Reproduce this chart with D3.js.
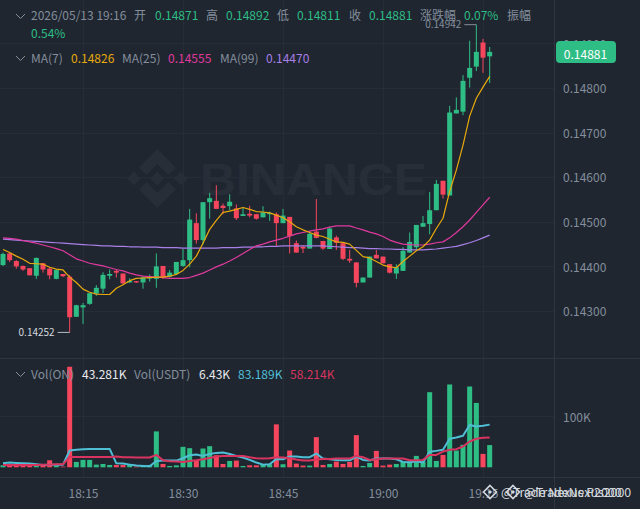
<!DOCTYPE html>
<html>
<head>
<meta charset="utf-8">
<script src="https://cdnjs.cloudflare.com/ajax/libs/d3/7.8.5/d3.min.js"></script>
<style>
  html, body { margin: 0; padding: 0; background: #1f2630; }
  svg { display: block; }
  text { font-family: "Noto Sans CJK SC", "Noto Sans", sans-serif; }
</style>
</head>
<body>
<div id="chart"></div>
<script>
// one candle per minute, first one is 18:03, last one 19:16
const startTime = new Date(2026, 4, 13, 18, 3);
const opens = [
  0.14403,0.14429,0.14412,0.14401,0.14396,0.14379,0.14407,0.14395,0.14372,0.14383,
  0.14377,0.14287,0.14308,0.14316,0.14339,0.14350,0.14379,0.14390,0.14384,0.14364,
  0.14367,0.14364,0.14373,0.14372,0.14401,0.14377,0.14383,0.14401,0.14414,0.14497,
  0.14459,0.14544,0.14547,0.14536,0.14535,0.14530,0.14513,0.14518,0.14517,0.14510,
  0.14517,0.14517,0.14497,0.14511,0.14452,0.14444,0.14440,0.14478,0.14457,0.14439,
  0.14465,0.14452,0.14417,0.14409,0.14364,0.14375,0.14426,0.14422,0.14405,0.14384,
  0.14390,0.14431,0.14443,0.14489,0.14495,0.14526,0.14592,0.14559,0.14743,0.14747,
  0.14823,0.14848,0.14902,0.14871];
const closes = [
  0.14428,0.14414,0.14400,0.14393,0.14380,0.14419,0.14393,0.14380,0.14392,0.14378,
  0.14286,0.14313,0.14313,0.14340,0.14352,0.14381,0.14383,0.14386,0.14362,0.14367,
  0.14364,0.14375,0.14376,0.14400,0.14375,0.14386,0.14410,0.14414,0.14505,0.14459,
  0.14544,0.14553,0.14529,0.14531,0.14545,0.14508,0.14517,0.14514,0.14507,0.14521,
  0.14520,0.14497,0.14514,0.14468,0.14431,0.14440,0.14473,0.14464,0.14440,0.14485,
  0.14453,0.14417,0.14413,0.14363,0.14375,0.14422,0.14418,0.14407,0.14386,0.14398,
  0.14435,0.14455,0.14493,0.14497,0.14526,0.14585,0.14561,0.14745,0.14751,0.14816,
  0.14845,0.14881,0.14868,0.14881];
const highs = [
  0.14431,0.14432,0.14414,0.14402,0.14396,0.14420,0.14407,0.14398,0.14393,0.14383,
  0.14381,0.14314,0.14318,0.14340,0.14358,0.14387,0.14393,0.14393,0.14384,0.14373,
  0.14367,0.14378,0.14382,0.14429,0.14401,0.14392,0.14410,0.14439,0.14529,0.14519,
  0.14544,0.14565,0.14582,0.14541,0.14562,0.14539,0.14532,0.14536,0.14517,0.14535,
  0.14523,0.14521,0.14529,0.14511,0.14458,0.14446,0.14478,0.14551,0.14457,0.14489,
  0.14469,0.14453,0.14437,0.14409,0.14375,0.14422,0.14437,0.14422,0.14405,0.14405,
  0.14443,0.14476,0.14493,0.14513,0.14567,0.14594,0.14592,0.14760,0.14779,0.14829,
  0.14906,0.14942,0.14910,0.14892];
const lows = [
  0.14401,0.14410,0.14395,0.14390,0.14380,0.14372,0.14386,0.14371,0.14371,0.14376,
  0.14252,0.14287,0.14271,0.14314,0.14334,0.14340,0.14371,0.14375,0.14360,0.14363,
  0.14363,0.14350,0.14366,0.14352,0.14372,0.14375,0.14381,0.14399,0.14398,0.14451,
  0.14449,0.14507,0.14529,0.14517,0.14526,0.14504,0.14513,0.14510,0.14505,0.14510,
  0.14502,0.14446,0.14497,0.14429,0.14431,0.14430,0.14440,0.14463,0.14437,0.14439,
  0.14437,0.14414,0.14408,0.14353,0.14364,0.14375,0.14418,0.14407,0.14384,0.14372,
  0.14390,0.14431,0.14438,0.14489,0.14472,0.14526,0.14552,0.14559,0.14743,0.14739,
  0.14801,0.14838,0.14834,0.14811];

const ma7 = [
  0.14438,0.14431,0.14423,0.14416,0.14407,0.14406,0.14405,0.14398,0.14394,0.14392,
  0.14376,0.14364,0.14349,0.14342,0.14338,0.14337,0.14337,0.14351,0.14359,0.14368,
  0.14373,0.14374,0.14375,0.14376,0.14376,0.14378,0.14382,0.14391,0.14405,0.14423,
  0.14452,0.14483,0.14503,0.14521,0.14524,0.14528,0.14532,0.14528,0.14523,0.14522,
  0.14520,0.14515,0.14509,0.14500,0.14489,0.14482,0.14476,0.14470,0.14467,0.14461,
  0.14455,0.14454,0.14450,0.14436,0.14422,0.14419,0.14411,0.14403,0.14399,0.14397,
  0.14411,0.14423,0.14435,0.14444,0.14459,0.14485,0.14508,0.14568,0.14616,0.14672,
  0.14737,0.14777,0.14802,0.14826];
const ma25 = [
  0.14464,0.14463,0.14461,0.14458,0.14455,0.14452,0.14448,0.14444,0.14440,0.14435,
  0.14426,0.14417,0.14412,0.14407,0.14404,0.14401,0.14397,0.14393,0.14390,0.14385,
  0.14381,0.14378,0.14377,0.14376,0.14375,0.14373,0.14373,0.14373,0.14375,0.14380,
  0.14385,0.14392,0.14399,0.14405,0.14412,0.14420,0.14429,0.14438,0.14446,0.14450,
  0.14455,0.14459,0.14463,0.14468,0.14473,0.14476,0.14479,0.14482,0.14484,0.14488,
  0.14491,0.14491,0.14491,0.14486,0.14482,0.14477,0.14473,0.14467,0.14459,0.14454,
  0.14450,0.14449,0.14448,0.14448,0.14450,0.14453,0.14455,0.14464,0.14476,0.14489,
  0.14504,0.14521,0.14538,0.14555];
const ma99 = [
  0.14461,0.14460,0.14459,0.14458,0.14457,0.14456,0.14455,0.14454,0.14453,0.14452,
  0.14451,0.14450,0.14449,0.14448,0.14447,0.14446,0.14446,0.14445,0.14445,0.14444,
  0.14444,0.14443,0.14443,0.14443,0.14442,0.14442,0.14442,0.14441,0.14441,0.14441,
  0.14441,0.14441,0.14441,0.14442,0.14442,0.14442,0.14443,0.14443,0.14444,0.14444,
  0.14445,0.14445,0.14446,0.14446,0.14446,0.14446,0.14446,0.14446,0.14446,0.14445,
  0.14444,0.14443,0.14442,0.14442,0.14441,0.14440,0.14440,0.14439,0.14439,0.14438,
  0.14438,0.14437,0.14437,0.14437,0.14438,0.14439,0.14441,0.14443,0.14445,0.14449,
  0.14453,0.14458,0.14464,0.14470];

// volume in thousands
const volumes = [
  3.9,4.6,4.6,3.9,4.6,3.9,4.6,13.7,3.9,1.3,
  196,10.5,14.4,14.4,5.2,6.5,4.6,4.6,4.6,4.6,
  1.3,4.6,4.6,70,6.5,2.6,3.9,39.9,37.3,14.4,
  36.6,41.2,23.5,6.5,12.4,13.1,2.6,3.9,3.9,4.6,
  5.9,83.7,5.9,32.7,7.2,3.3,3.3,58.8,4.6,6.5,
  11.1,6.5,10.5,62.7,2.6,8.5,32,3.3,5.2,6.5,
  11.1,11.1,22.2,11.1,146.4,12.4,24.2,161.4,32.7,43.8,
  157.5,125.5,26.1,43.3];
const volMaFast = [
  7.8,9.2,8.5,7.8,7.2,5.9,4.6,5.2,5.2,5.2,
  32.7,34,35.3,35.9,35.9,35.9,35.9,7.8,7.2,5.2,
  3.3,2.6,2,12.4,13.1,13.1,13.1,17.6,23.5,24.8,
  22.2,26.1,28.1,28.8,26.1,22.2,19,14.4,9.2,5.2,
  5.9,16.3,15.7,20.9,20.9,19.6,19.6,26.8,17,15.7,
  14.4,13.7,13.7,20.9,14.4,13.1,17,17,17,15.7,
  10.5,9.8,11.8,9.2,30.1,32,34,55.6,58.2,61.4,
  82.4,79.7,81,83.19];
const volMaSlow = [
  4.6,4.6,4.6,4.6,4.6,4.6,5.2,5.2,5.9,5.9,
  20.3,20.3,20.3,20.3,20.3,20.3,20.3,20.9,19.6,19.6,
  19,19,19,24.2,13.7,11.8,11.1,10.5,12.4,13.7,
  15.7,18.3,20.9,22.2,22.2,22.2,22.2,19.6,17.6,17,
  17.6,19.6,19,17.6,15,13.1,13.1,15,16.3,16.3,
  17,17,17,22.2,19.6,14.4,15.7,17,17,17,
  17,13.7,13.7,14.4,24.2,24.2,30.7,34,35.3,40.5,
  50.3,55.6,57.5,58.214];

const priceTicks = [0.143, 0.144, 0.145, 0.146, 0.147, 0.148, 0.149];
const volumeTicks = [100];
const timeTicks = [[18, 15], [18, 30], [18, 45], [19, 0], [19, 15]];
const lastPrice = 0.14881;
const lowPrice = 0.14252;
const highPrice = 0.14942;

const headerRow1 = [
  ["2026/05/13 19:16", 31, "gray"], ["开", 134, "gray"], ["0.14871", 155, "up"],
  ["高", 206, "gray"], ["0.14892", 226, "up"], ["低", 277, "gray"], ["0.14811", 297, "up"],
  ["收", 349, "gray"], ["0.14881", 369, "up"], ["涨跌幅", 420, "gray"], ["0.07%", 464, "up"],
  ["振幅", 507, "gray"]];
const headerRow2 = [["0.54%", 31, "up"]];
const maLegend = [
  ["MA(7)", 31, "gray"], ["0.14826", 71, "ma7"], ["MA(25)", 122, "gray"], ["0.14555", 168, "ma25"],
  ["MA(99)", 220, "gray"], ["0.14470", 266, "ma99"]];
const volLegend = [
  ["Vol(ON)", 31, "gray"], ["43.281K", 82, "white"], ["Vol(USDT)", 134, "gray"], ["6.43K", 199, "white"],
  ["83.189K", 238, "volFast"], ["58.214K", 290, "volSlow"]];

const colors = {
  bg: "#1f2630", grid: "#262d38", sep: "#2e3540", gray: "#848e9c", up: "#2ebd85", down: "#f6465d",
  white: "#eaecef", ma7: "#e8a90c", ma25: "#e0399e", ma99: "#a97fe8", volFast: "#4fbfd6", volSlow: "#d9345f",
  mark: "#272e38"
};

const width = 640, height = 509, plotRight = 555;
const svg = d3.select("#chart").append("svg").attr("width", width).attr("height", height)
  .style("background", colors.bg);

const timeOf = i => d3.timeMinute.offset(startTime, i);
const x = d3.scaleTime().domain([timeOf(0), timeOf(73)]).range([3, 489.67]);
const y = d3.scaleLinear().domain([0.143, 0.148]).range([311, 88]);
const yVol = d3.scaleLinear().domain([0, 100]).range([467.3, 416]);
const index = d3.range(opens.length);
const isUp = i => closes[i] >= opens[i];
const bodyWidth = 5;

// watermark
const wm = svg.append("g").attr("fill", colors.mark);
const logo = wm.append("g").attr("transform", "translate(157.3,178.5)");
logo.append("path").attr("d", "M0,-29.5 L18.5,-11 L11,-3.5 L0,-14.5 L-11,-3.5 L-18.5,-11 Z");
logo.append("path").attr("d", "M0,29.5 L18.5,11 L11,3.5 L0,14.5 L-11,3.5 L-18.5,11 Z");
logo.append("path").attr("d", "M0,-7 L7,0 L0,7 L-7,0 Z");
logo.append("path").attr("d", "M-23.5,-7 L-16.5,0 L-23.5,7 L-30.5,0 Z");
logo.append("path").attr("d", "M23.5,-7 L30.5,0 L23.5,7 L16.5,0 Z");
wm.append("text").attr("x", 200).attr("y", 195)
  .attr("textLength", 227).attr("lengthAdjust", "spacingAndGlyphs")
  .style("font-family", "'Liberation Sans'").style("font-weight", 700).style("font-size", "45px")
  .text("BINANCE");

// grid
const grid = svg.append("g").attr("stroke", colors.grid).attr("stroke-width", 1);
const tickDates = timeTicks.map(t => new Date(2026, 4, 13, t[0], t[1]));
grid.selectAll(".vg").data(tickDates).enter().append("line")
  .attr("x1", d => Math.round(x(d)) + 0.5).attr("x2", d => Math.round(x(d)) + 0.5)
  .attr("y1", 0).attr("y2", 477);
grid.selectAll(".hg").data(priceTicks).enter().append("line")
  .attr("x1", 0).attr("x2", plotRight)
  .attr("y1", d => Math.round(y(d)) + 0.5).attr("y2", d => Math.round(y(d)) + 0.5);
grid.selectAll(".hv").data(volumeTicks).enter().append("line")
  .attr("x1", 0).attr("x2", plotRight)
  .attr("y1", d => Math.round(yVol(d)) + 0.5).attr("y2", d => Math.round(yVol(d)) + 0.5);

// pane separators
const seps = svg.append("g").attr("stroke", colors.sep);
seps.append("line").attr("x1", 0).attr("x2", width).attr("y1", 358.5).attr("y2", 358.5);
seps.append("line").attr("x1", 0).attr("x2", width).attr("y1", 477.5).attr("y2", 477.5);
seps.append("line").attr("x1", plotRight - 0.5).attr("x2", plotRight - 0.5).attr("y1", 0).attr("y2", height);

// volume bars
svg.append("g").selectAll("rect").data(index).enter().append("rect")
  .attr("x", i => x(timeOf(i)) - bodyWidth / 2)
  .attr("width", bodyWidth)
  .attr("y", i => yVol(volumes[i]))
  .attr("height", i => yVol(0) - yVol(volumes[i]))
  .attr("fill", i => isUp(i) ? colors.up : colors.down);

const drawLine = (values, scale, color, w) => {
  svg.append("path").datum(values)
    .attr("fill", "none").attr("stroke", color).attr("stroke-width", w)
    .attr("stroke-linejoin", "round")
    .attr("d", d3.line().x((d, i) => x(timeOf(i))).y(d => scale(d)));
};
drawLine(volMaFast, yVol, colors.volFast, 2);
drawLine(volMaSlow, yVol, colors.volSlow, 2);

// candles
const candle = svg.append("g").selectAll("g").data(index).enter().append("g")
  .attr("fill", i => isUp(i) ? colors.up : colors.down);
candle.append("rect")
  .attr("x", i => x(timeOf(i)) - 0.5).attr("width", 1)
  .attr("y", i => y(highs[i])).attr("height", i => y(lows[i]) - y(highs[i]));
candle.append("rect")
  .attr("x", i => x(timeOf(i)) - bodyWidth / 2).attr("width", bodyWidth)
  .attr("y", i => y(Math.max(opens[i], closes[i])))
  .attr("height", i => Math.max(1, Math.abs(y(opens[i]) - y(closes[i]))));

drawLine(ma99, y, colors.ma99, 1.2);
drawLine(ma25, y, colors.ma25, 1.2);
drawLine(ma7, y, colors.ma7, 1.2);

// axes
const styleAxis = g => {
  g.select(".domain").remove();
  g.selectAll(".tick line").remove();
  g.selectAll("text").attr("fill", colors.gray).style("font-size", "12px")
    .style("font-family", "'Noto Sans CJK SC'");
};
svg.append("g").attr("transform", "translate(0,489)")
  .call(d3.axisBottom(x).tickValues(tickDates).tickFormat(d3.timeFormat("%H:%M")).tickSize(0).tickPadding(0))
  .call(styleAxis);
svg.append("g").attr("transform", "translate(563,0.8)")
  .call(d3.axisRight(y).tickValues(priceTicks).tickFormat(d3.format(".5f")).tickSize(0).tickPadding(0))
  .call(styleAxis);
svg.append("g").attr("transform", "translate(563,1.5)")
  .call(d3.axisRight(yVol).tickValues(volumeTicks).tickFormat(d => d + "K").tickSize(0).tickPadding(0))
  .call(styleAxis);

// last price tag
const tagY = y(lastPrice);
svg.append("rect").attr("x", 556).attr("y", 41).attr("width", 60).attr("height", 22).attr("rx", 4)
  .attr("fill", colors.up);
svg.append("text").attr("x", 585.5).attr("y", tagY + 7).attr("text-anchor", "middle")
  .attr("fill", "#fff").style("font-size", "12px").text(d3.format(".5f")(lastPrice));

// high / low labels
const lowAt = x(timeOf(lows.indexOf(lowPrice)));
svg.append("line").attr("x1", lowAt - 12).attr("x2", lowAt).attr("y1", y(lowPrice)).attr("y2", y(lowPrice))
  .attr("stroke", "#b7bdc6");
svg.append("text").attr("x", lowAt - 15).attr("y", y(lowPrice) + 4).attr("text-anchor", "end")
  .attr("fill", "#d5d9df").style("font-size", "10px").text(d3.format(".5f")(lowPrice));
const highAt = x(timeOf(highs.indexOf(highPrice)));
svg.append("line").attr("x1", highAt - 12).attr("x2", highAt).attr("y1", y(highPrice)).attr("y2", y(highPrice))
  .attr("stroke", "#848e9c");
svg.append("text").attr("x", highAt - 15).attr("y", y(highPrice) + 3).attr("text-anchor", "end")
  .attr("fill", colors.gray).style("font-size", "10px").text(d3.format(".5f")(highPrice));

// legends
const drawRow = (items, baseline) => {
  svg.append("g").selectAll("text").data(items).enter().append("text")
    .attr("x", d => d[1]).attr("y", baseline)
    .attr("fill", d => colors[d[2]]).style("font-size", "12px").text(d => d[0]);
};
drawRow(headerRow1, 20);
drawRow(headerRow2, 37.5);
drawRow(maLegend, 62.5);
drawRow(volLegend, 378.5);

const chevron = cy => svg.append("path").attr("d", `M16,${cy - 2} L20.5,${cy + 2.5} L25,${cy - 2}`)
  .attr("fill", "none").attr("stroke", colors.gray).attr("stroke-width", 1);
[16, 58, 374].forEach(chevron);

// repost stamps at the bottom right
const stamp = (sx, label, size) => {
  const s = svg.append("g").attr("transform", `translate(${sx},492)`).attr("fill", "#d5d9df");
  s.append("path").attr("fill", "none").attr("stroke", "#d5d9df").attr("stroke-width", 1.6)
    .attr("d", "M0,-6.5 L6.5,0 L0,6.5 L-6.5,0 Z");
  s.append("path").attr("d", "M0,-2 L2,0 L0,2 L-2,0 Z");
  s.append("text").attr("x", 11).attr("y", 4.5).style("font-size", size + "px").text(label);
};
stamp(490, "@Trade Nexus P2000", 12.4);
stamp(513, "@TradeNexus2000", 12.4);
</script>
</body>
</html>
